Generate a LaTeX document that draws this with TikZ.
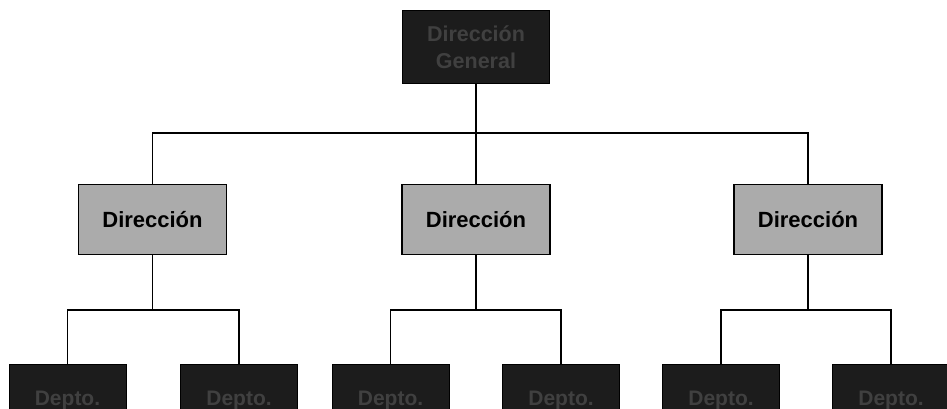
\documentclass[tikz,border=0pt]{standalone}
\usepackage{fontspec}
\setmainfont{Liberation Sans}
\definecolor{headfill}{HTML}{1C1C1C}
\definecolor{headtext}{HTML}{404040}
\definecolor{midfill}{HTML}{ABABAB}
\begin{document}
\begin{tikzpicture}[x=1pt,y=-1pt,
  link/.style={draw=black,line width=1.4pt},
  headbox/.style={draw=black,line width=1pt,fill=headfill,text=headtext,
    minimum width=147pt,minimum height=73pt,inner sep=0pt,align=center,
    font=\fontsize{21.5}{27}\selectfont\bfseries},
  dirbox/.style={draw=black,line width=1.8pt,fill=midfill,text=black,
    minimum width=148pt,minimum height=70pt,inner sep=0pt,
    font=\fontsize{22}{25}\selectfont\bfseries},
  deptbox/.style={draw=black,line width=1pt,fill=headfill,text=headtext,
    minimum width=117pt,minimum height=72pt,inner sep=0pt,
    font=\fontsize{21}{25}\selectfont\bfseries}]
  \useasboundingbox (0,0) rectangle (947,408);
  \begin{scope}
  \clip (0,0) rectangle (947,408);
  % general direction
  \node[headbox] (gen) at (476,47) {Dirección\\General};
  % directions
  \node[dirbox] (d1) at (152.5,219.5) {Dirección};
  \node[dirbox] (d2) at (476,219.5) {Dirección};
  \node[dirbox] (d3) at (808,219.5) {Dirección};
  % departments
  \node[deptbox] (p1) at (67.5,400) {Depto.};
  \node[deptbox] (p2) at (239,400) {Depto.};
  \node[deptbox] (p3) at (390.5,400) {Depto.};
  \node[deptbox] (p4) at (561,400) {Depto.};
  \node[deptbox] (p5) at (721,400) {Depto.};
  \node[deptbox] (p6) at (891,400) {Depto.};
  % connectors
  \draw[link] (gen.south) -- (gen.south |- 0,133) -| (d1.north);
  \draw[link] (gen.south) -- (gen.south |- 0,133) -| (d3.north);
  \draw[link] (gen.south) -- (d2.north);
  \draw[link] (d1.south) -- (d1.south |- 0,310) -| (p1.north);
  \draw[link] (d1.south) -- (d1.south |- 0,310) -| (p2.north);
  \draw[link] (d2.south) -- (d2.south |- 0,310) -| (p3.north);
  \draw[link] (d2.south) -- (d2.south |- 0,310) -| (p4.north);
  \draw[link] (d3.south) -- (d3.south |- 0,310) -| (p5.north);
  \draw[link] (d3.south) -- (d3.south |- 0,310) -| (p6.north);
  \end{scope}
\end{tikzpicture}
\end{document}
